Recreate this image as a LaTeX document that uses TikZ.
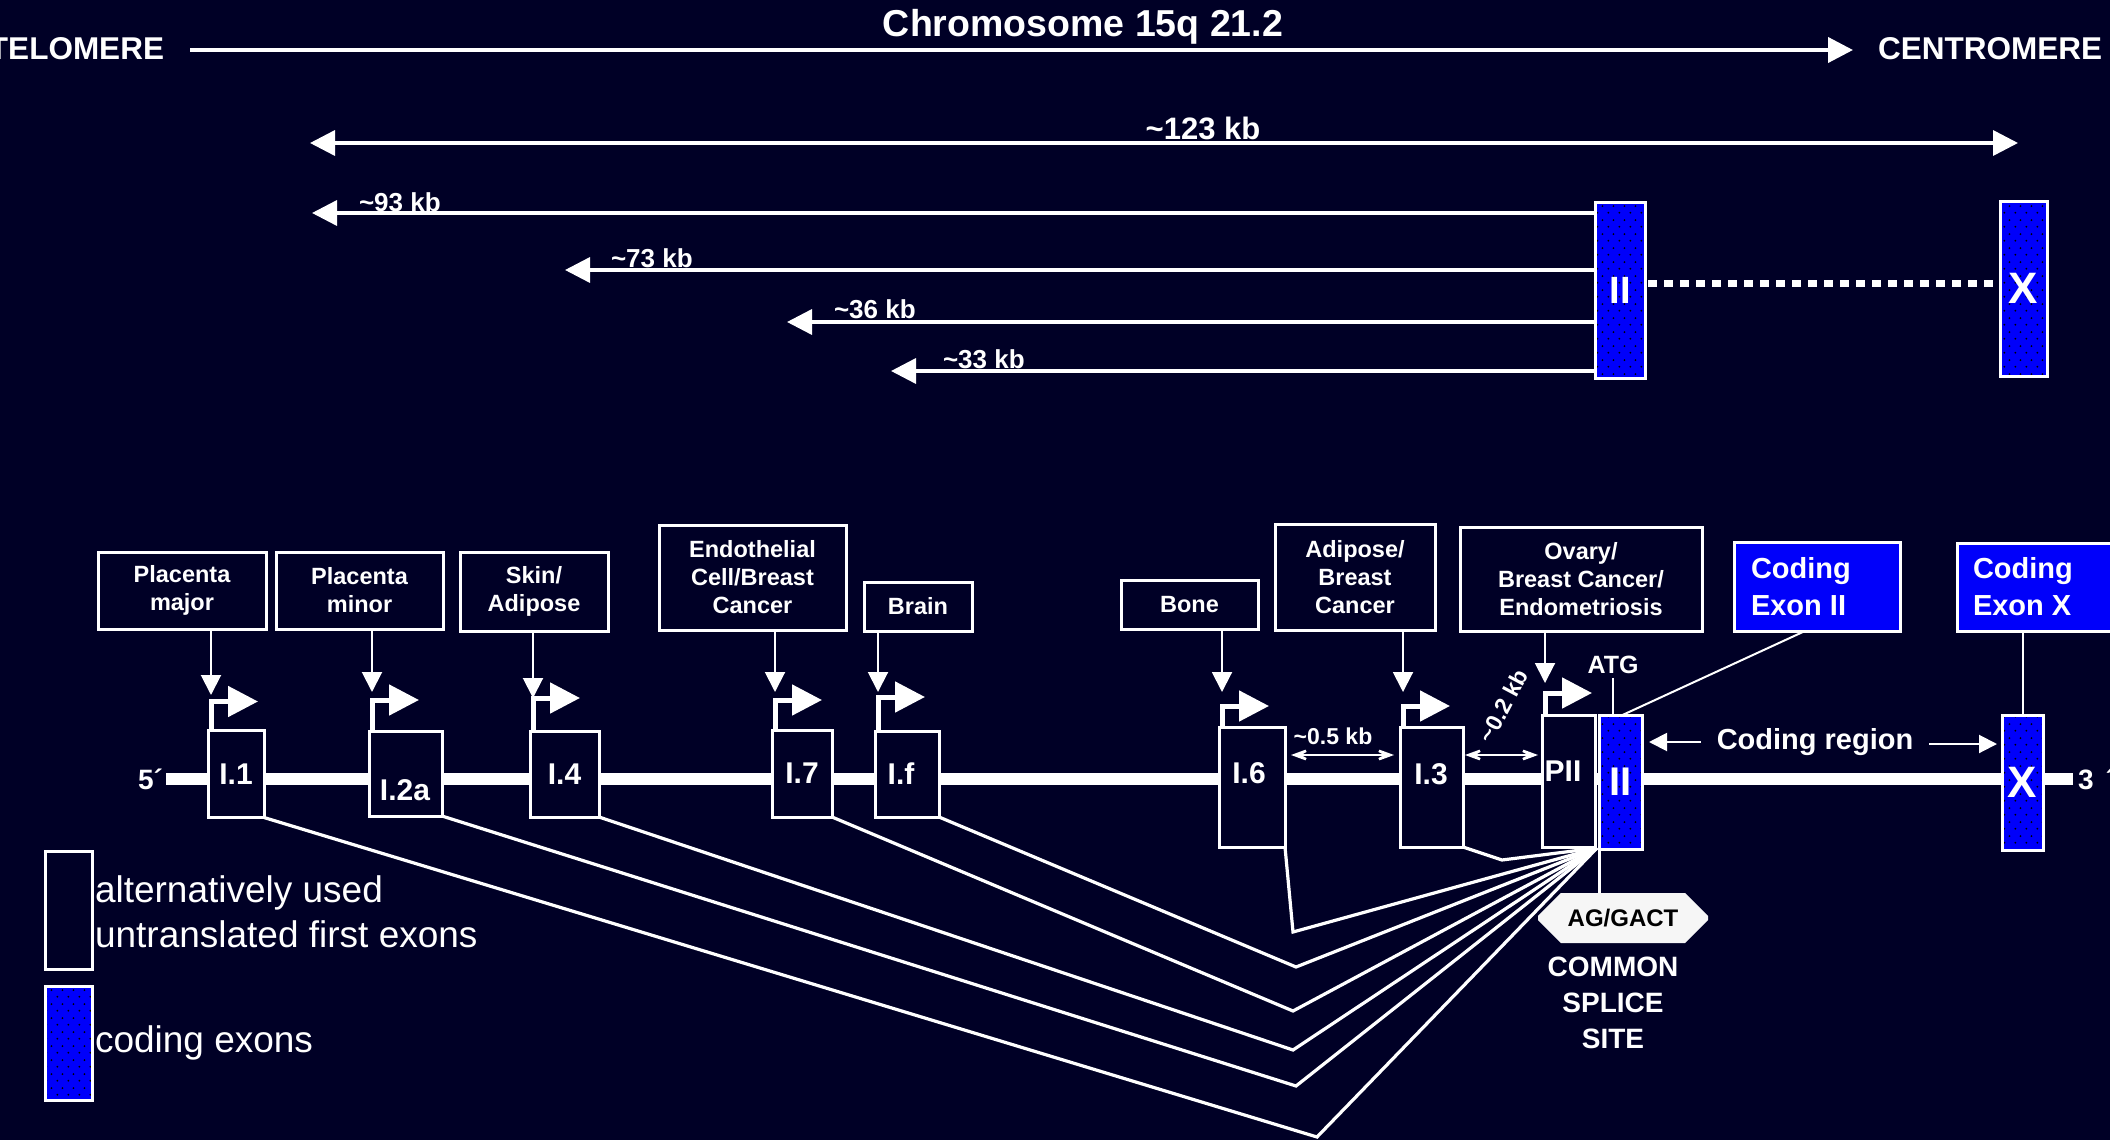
\documentclass[tikz,border=0pt]{standalone}
\usepackage{fontspec}
\setmainfont{Liberation Sans}
\usetikzlibrary{arrows.meta,calc,patterns,shapes.misc}
\definecolor{bg}{RGB}{0,0,38}
\definecolor{exblue}{RGB}{0,0,250}
\newcommand\fsz[2]{\fontsize{#1}{#2}\selectfont}
\pgfdeclarepatternformonly{exdots}{\pgfpoint{0pt}{0pt}}{\pgfpoint{11pt}{14pt}}{\pgfpoint{11pt}{14pt}}{%
  \pgfpathcircle{\pgfpoint{2.5pt}{3.5pt}}{1.1pt}%
  \pgfpathcircle{\pgfpoint{8pt}{10.5pt}}{1.1pt}%
  \pgfusepath{fill}}
\tikzset{
  every node/.style={text=white, inner sep=0pt, outer sep=0pt, font=\bfseries},
  tbox/.style={draw=white, line width=3pt, fill=bg, align=center, font=\bfseries\fsz{23.5}{28}},
  cbox/.style={draw=white, line width=3pt, fill=exblue},
  fexon/.style={draw=white, line width=3pt, fill=bg, font=\bfseries\fsz{30}{34}},
  cexon/.style={draw=white, line width=3pt, preaction={fill=exblue}, pattern=exdots, pattern color=black},
  elabel/.style={font=\bfseries\fsz{30}{34}},
  kbl/.style={font=\bfseries\fsz{26}{30}, anchor=base west},
  kbarr/.style={white, line width=3.5pt, -{Triangle[length=25pt,width=25pt]}},
  prom/.style={white, line width=5pt, line join=miter, -{Triangle[length=30pt,width=30pt]}},
  tarr/.style={white, line width=2pt, -{Triangle[length=20pt,width=20pt]}},
  dbl/.style={white, line width=2.5pt, {Stealth[length=30pt,width=22pt,inset=20pt]}-{Stealth[length=30pt,width=22pt,inset=20pt]}},
  carr/.style={white, line width=2pt, -{Triangle[length=18pt,width=18pt]}},
  spl/.style={white, line width=3.2pt, line join=miter},
  thinline/.style={white, line width=2pt},
  chrom/.style={white, line width=12pt},
}
\begin{document}
\begin{tikzpicture}[x=1pt,y=-1pt]
\useasboundingbox (0,0) rectangle (2110,1140);
\fill[bg] (0,0) rectangle (2110,1140);

% ---------- top map ----------
\node[font=\bfseries\fsz{31.5}{36}, anchor=east] (tel) at (164,49) {TELOMERE};
\node[font=\bfseries\fsz{31.5}{36}, anchor=west] (cen) at (1878,49) {CENTROMERE};
\node[font=\bfseries\fsz{37.5}{44}, anchor=base] (title) at (1083,37) {Chromosome 15q 21.2};
\draw[white, line width=4pt, -{Triangle[length=25pt,width=25pt]}] ($(tel.east)+(26,1)$) -- ($(cen.west)+(-25,1)$);

\node[cexon, minimum width=50pt, minimum height=176pt, font=\bfseries\fsz{38}{40}] (tII) at (1620,290) {II};
\node[cexon, minimum width=47pt, minimum height=175pt, font=\bfseries\fsz{44}{46}] (tX) at (2023.5,288.5) {X};

\coordinate (k123l) at (310,143);
\coordinate (k123r) at (2018,143);
\draw[white, line width=3.5pt, {Triangle[length=25pt,width=25pt]}-{Triangle[length=25pt,width=25pt]}] (k123l) -- (k123r);
\node[font=\bfseries\fsz{31}{34}, anchor=base] (l123) at (1203,139) {\textasciitilde123 kb};

\coordinate (k93) at (312,213);
\coordinate (k73) at (565,270);
\coordinate (k36) at (787,322);
\coordinate (k33) at (891,371);
\draw[kbarr] (tII.west |- k93) -- (k93);
\draw[kbarr] (tII.west |- k73) -- (k73);
\draw[kbarr] (tII.west |- k36) -- (k36);
\draw[kbarr] (tII.west |- k33) -- (k33);
\node[kbl] (l93) at (359,211) {\textasciitilde93 kb};
\node[kbl] (l73) at (611,267) {\textasciitilde73 kb};
\node[kbl] (l36) at (834,318) {\textasciitilde36 kb};
\node[kbl] (l33) at (943,368) {\textasciitilde33 kb};

\draw[white, line width=7pt, dash pattern=on 9pt off 7pt] ($(tII.east)+(3,-7)$) -- ($(tII.east -| tX.west)+(-2,-7)$);

% ---------- gene ----------
\node[font=\bfseries\fsz{28}{32}, anchor=base east] (five) at (163,789) {5´};
\node[font=\bfseries\fsz{28}{32}, anchor=base west] (three) at (2078,789) {3\hspace{12pt}´};
\draw[chrom] ($(five.base east)+(3,-10)$) -- ($(three.base west)+(-5,-10)$);

\node[fexon, minimum width=56pt, minimum height=87pt] (I1) at (236,774) {I.1};
\node[fexon, minimum width=73pt, minimum height=85pt] (I2a) at (405.5,773.5) {};
\node[elabel] (lI2a) at (405,790) {I.2a};
\node[fexon, minimum width=69pt, minimum height=86pt] (I4) at (564.5,774) {I.4};
\node[fexon, minimum width=60pt, minimum height=87pt] (I7) at (802,773.5) {I.7};
\node[fexon, minimum width=64pt, minimum height=86pt] (If) at (907,774) {};
\node[elabel] (lIf) at (901,774) {I.f};
\node[fexon, minimum width=66pt, minimum height=120pt] (I6) at (1252,787) {};
\node[elabel] (lI6) at (1249,773) {I.6};
\node[fexon, minimum width=63pt, minimum height=120pt] (I3) at (1431.5,787) {};
\node[elabel] (lI3) at (1431,774) {I.3};
\node[fexon, minimum width=53pt, minimum height=132pt] (PII) at (1568.5,781) {};
\node[elabel] (lPII) at (1563,771) {PII};
\node[cexon, minimum width=43pt, minimum height=134pt, font=\bfseries\fsz{40}{42}] (eII) at (1620.5,782) {II};
\node[cexon, minimum width=41pt, minimum height=135pt, font=\bfseries\fsz{44}{46}] (eX) at (2022.5,782.5) {X};

% promoter bent arrows
\foreach \e/\r in {I1/29, I2a/31, I4/33, I7/30, If/34, I6/21, I3/21, PII/22}
  \draw[prom] ($(\e.north west)+(3,0)$) -- ++(0,-\r) -- ++(47,0);

% tissue boxes
\node[tbox, minimum width=168pt, minimum height=77pt] (pmaj) at (182,590.5) {Placenta\\major};
\node[tbox, minimum width=167pt, minimum height=77pt] (pmin) at (359.5,590.5) {Placenta\\minor};
\node[tbox, minimum width=148pt, minimum height=79pt] (skin) at (534,591.5) {Skin/\\Adipose};
\node[tbox, minimum width=187pt, minimum height=105pt] (endo) at (752.5,577.5) {Endothelial\\Cell/Breast\\Cancer};
\node[tbox, minimum width=108pt, minimum height=49pt] (brain) at (918,606.5) {Brain};
\node[tbox, minimum width=137pt, minimum height=49pt] (bone) at (1189.5,604.5) {Bone};
\node[tbox, minimum width=160pt, minimum height=106pt] (adip) at (1355,577) {Adipose/\\Breast\\Cancer};
\node[tbox, minimum width=242pt, minimum height=104pt] (ovary) at (1581,579) {Ovary/\\Breast Cancer/\\Endometriosis};

\foreach \t/\e/\l in {pmaj/I1/66, pmin/I2a/63, skin/I4/67, endo/I7/62, brain/If/61, bone/I6/63, adip/I3/62, ovary/PII/52}
  \draw[tarr] ($(\t.south -| \e.north west)+(3,0)$) -- ++(0,\l);

% splicing lines
\coordinate (cs) at ($(eII.south west)+(-2,-1)$);
\coordinate (v1) at (1293,932);
\coordinate (v2) at (1296,967);
\coordinate (v3) at (1293,1011);
\coordinate (v4) at (1293,1050);
\coordinate (v5) at (1296,1086);
\coordinate (v6) at (1317,1137);
\coordinate (v7) at (1502,860);
\foreach \e/\v in {I1/v6, I2a/v5, I4/v4, I7/v3, If/v2, I6/v1, I3/v7}
  \draw[spl] (\e.south east) -- (\v) -- (cs);

% distances
\draw[dbl] ($(I6.east |- 0,755)+(6,0)$) -- ($(I3.west |- 0,755)+(-6,0)$);
\node[font=\bfseries\fsz{23}{26}] (l05) at (1333,736) {\textasciitilde0.5 kb};
\draw[dbl] ($(I3.east |- 0,755)+(2,0)$) -- ($(PII.west |- 0,755)+(-4,0)$);
\node[font=\bfseries\fsz{23}{26}, rotate=62] (l02) at (1503,706) {\textasciitilde0.2 kb};

% coding region
\node[font=\bfseries\fsz{29}{34}] (creg) at (1815,742) {Coding region};
\draw[carr] ($(creg.west)+(-16,0)$) -- ($(eII.east |- creg.west)+(7,0)$);
\draw[carr] ($(creg.east)+(16,2)$) -- ($(eX.west |- creg.east)+(-5,2)$);

% ATG
\node[font=\bfseries\fsz{25}{28}] (atg) at (1613,665) {ATG};
\draw[thinline] ($(atg.south)+(0,4)$) -- (atg.south |- eII.north);

% coding exon boxes
\node[cbox, minimum width=166pt, minimum height=89pt] (codII) at (1817,586.5) {};
\node[font=\bfseries\fsz{29}{37}, anchor=west, align=left] (codIIt) at (1751,587) {Coding\\Exon II};
\node[cbox, minimum width=158pt, minimum height=88pt] (codX) at (2036,587) {};
\node[font=\bfseries\fsz{29}{37}, anchor=west, align=left] (codXt) at (1973,587) {Coding\\Exon X};
\draw[thinline] ($(codII.south)+(-12,0)$) -- ($(eII.north)+(2,0)$);
\draw[thinline] (eX.north |- codX.south) -- (eX.north);

% splice site
\node[chamfered rectangle, chamfered rectangle xsep=15pt, chamfered rectangle ysep=14pt,
      fill=white!93!gray, minimum width=170pt, minimum height=50pt, text=black,
      font=\bfseries\fsz{24}{26}] (ag) at (1623,918) {AG/GACT};
\draw[white, line width=3pt] (eII.south west) -- (eII.south west |- ag.north);
\node[align=center, font=\bfseries\fsz{28}{36}] (css) at (1613,1003) {COMMON\\SPLICE\\SITE};

% legend
\node[fexon, minimum width=47pt, minimum height=118pt] (lg1) at (68.5,910) {};
\node[cexon, minimum width=47pt, minimum height=114pt] (lg2) at (68.5,1043) {};
\node[font=\normalfont\fsz{37}{43}, anchor=base west] (lt1) at (95,902) {alternatively used};
\node[font=\normalfont\fsz{37}{43}, anchor=base west] (lt2) at (95,947) {untranslated first exons};
\node[font=\normalfont\fsz{37}{43}, anchor=base west] (lt3) at (95,1052) {coding exons};
\end{tikzpicture}
\end{document}
